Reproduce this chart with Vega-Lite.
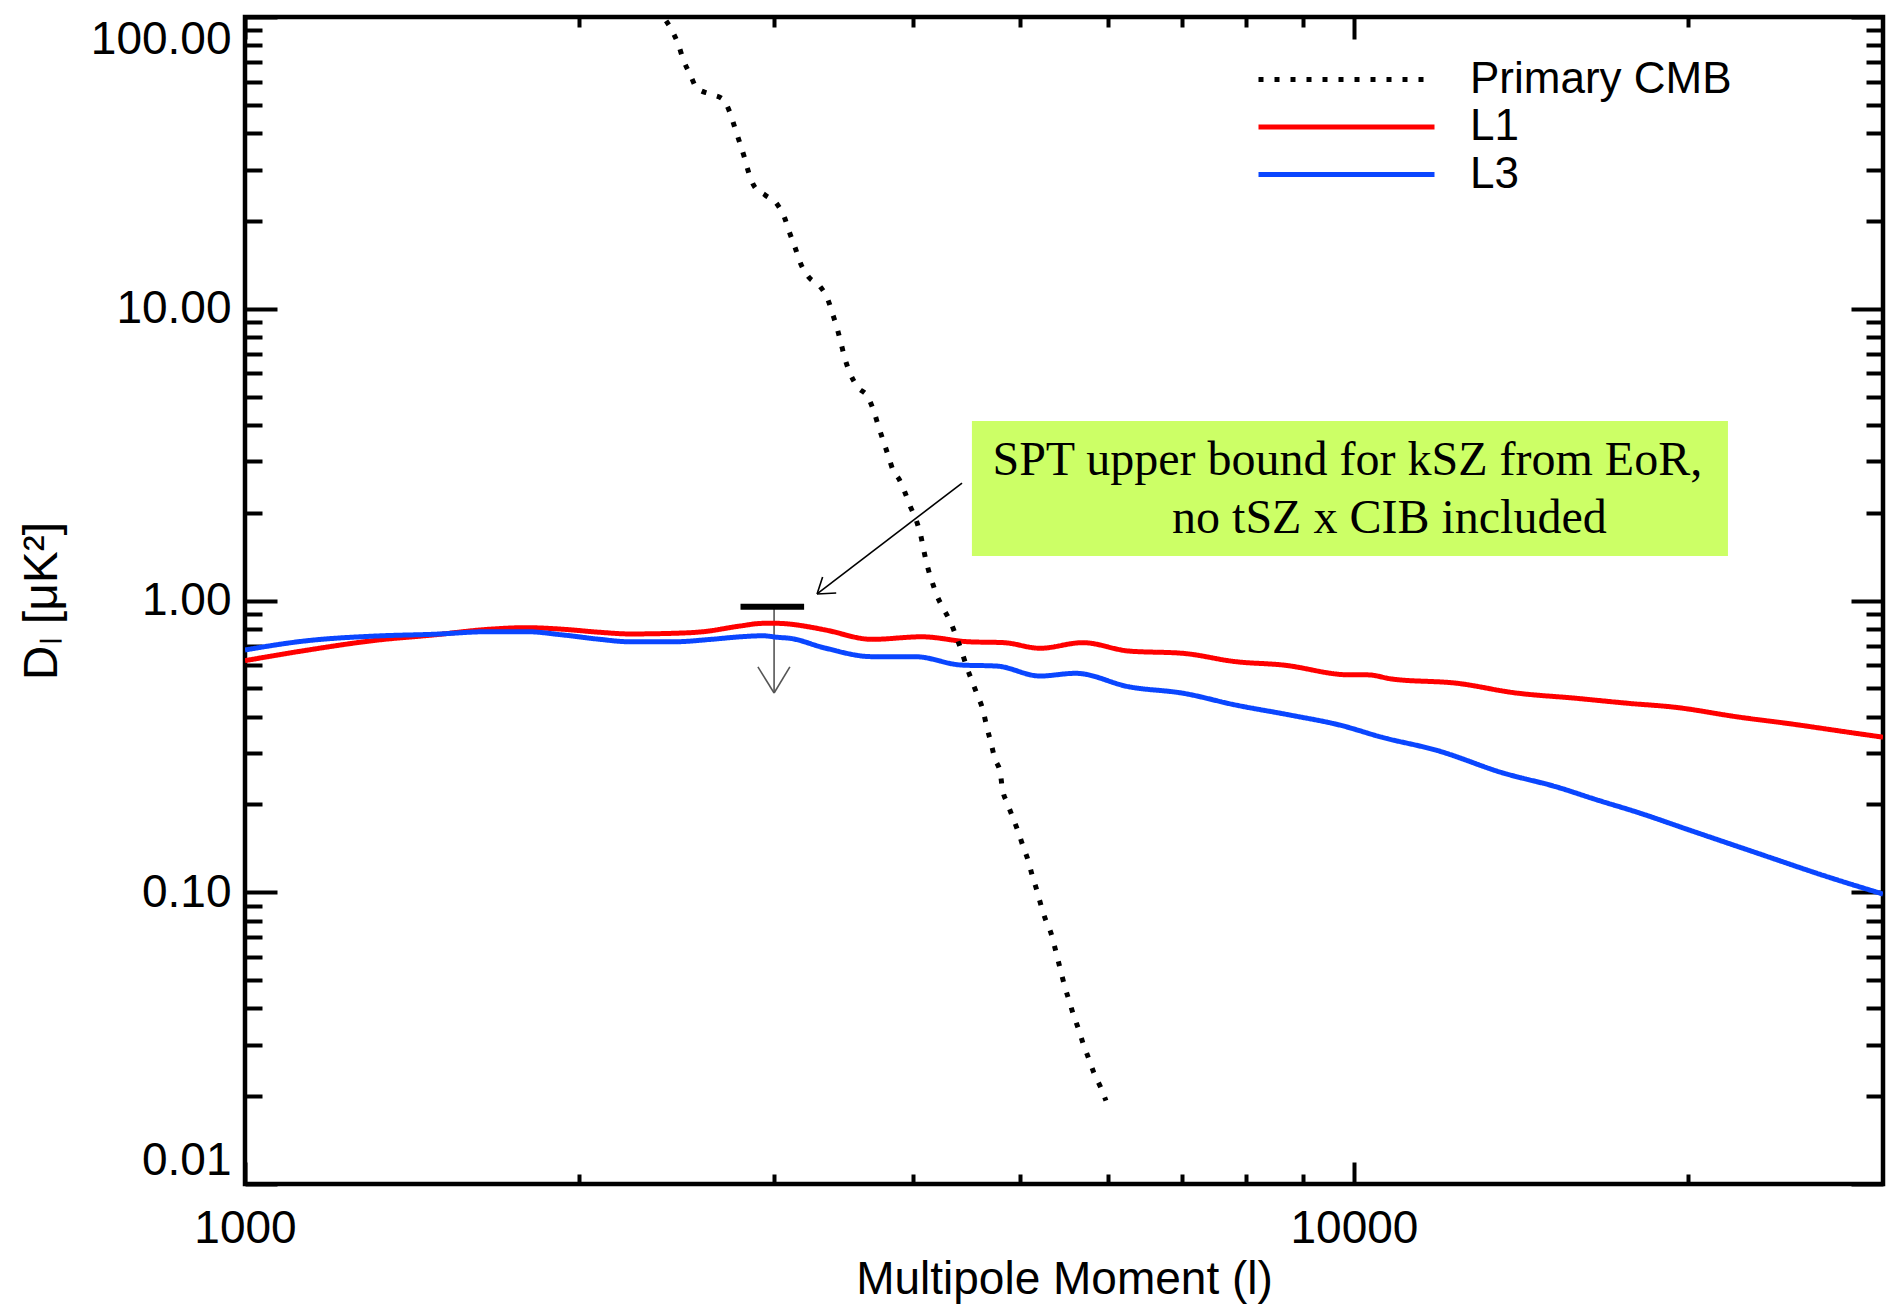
{
  "$schema": "https://vega.github.io/schema/vega-lite/v6.json",
  "width": 1638,
  "height": 1167,
  "autosize": {"type": "none"},
  "padding": {"left": 245, "top": 17, "right": 3, "bottom": 121},
  "background": "white",
  "config": {
    "view": {"stroke": "black", "strokeWidth": 4.5},
    "axis": {"grid": false, "domain": false, "tickColor": "black", "tickWidth": 4, "labelColor": "black", "titleColor": "black", "labelFont": "Liberation Sans", "titleFont": "Liberation Sans", "titleFontWeight": "normal"}
  },
  "datasets": {
    "curves": [
      {"series": "L1", "l": 1000, "D": 0.622}, {"series": "L1", "l": 1130, "D": 0.673}, {"series": "L1", "l": 1318, "D": 0.732},
      {"series": "L1", "l": 1479, "D": 0.762}, {"series": "L1", "l": 1660, "D": 0.797}, {"series": "L1", "l": 1792, "D": 0.807},
      {"series": "L1", "l": 1935, "D": 0.797}, {"series": "L1", "l": 2090, "D": 0.778}, {"series": "L1", "l": 2223, "D": 0.768},
      {"series": "L1", "l": 2437, "D": 0.772}, {"series": "L1", "l": 2591, "D": 0.782}, {"series": "L1", "l": 2798, "D": 0.818},
      {"series": "L1", "l": 2930, "D": 0.835}, {"series": "L1", "l": 3022, "D": 0.835}, {"series": "L1", "l": 3100, "D": 0.83},
      {"series": "L1", "l": 3232, "D": 0.811}, {"series": "L1", "l": 3340, "D": 0.792}, {"series": "L1", "l": 3677, "D": 0.736},
      {"series": "L1", "l": 4078, "D": 0.751}, {"series": "L1", "l": 4493, "D": 0.722}, {"series": "L1", "l": 4835, "D": 0.717},
      {"series": "L1", "l": 5211, "D": 0.686}, {"series": "L1", "l": 5695, "D": 0.717}, {"series": "L1", "l": 6268, "D": 0.671},
      {"series": "L1", "l": 7013, "D": 0.659}, {"series": "L1", "l": 7829, "D": 0.617}, {"series": "L1", "l": 8629, "D": 0.601},
      {"series": "L1", "l": 9917, "D": 0.556}, {"series": "L1", "l": 10292, "D": 0.556}, {"series": "L1", "l": 10822, "D": 0.538},
      {"series": "L1", "l": 12410, "D": 0.52}, {"series": "L1", "l": 13941, "D": 0.483}, {"series": "L1", "l": 15883, "D": 0.462},
      {"series": "L1", "l": 17701, "D": 0.444}, {"series": "L1", "l": 19434, "D": 0.431}, {"series": "L1", "l": 22287, "D": 0.398},
      {"series": "L1", "l": 24863, "D": 0.377}, {"series": "L1", "l": 27716, "D": 0.355}, {"series": "L1", "l": 30000, "D": 0.34},
      {"series": "L3", "l": 1000, "D": 0.677}, {"series": "L3", "l": 1130, "D": 0.726}, {"series": "L3", "l": 1318, "D": 0.756},
      {"series": "L3", "l": 1479, "D": 0.766}, {"series": "L3", "l": 1660, "D": 0.782}, {"series": "L3", "l": 1792, "D": 0.782},
      {"series": "L3", "l": 1935, "D": 0.762}, {"series": "L3", "l": 2090, "D": 0.736}, {"series": "L3", "l": 2223, "D": 0.722},
      {"series": "L3", "l": 2437, "D": 0.722}, {"series": "L3", "l": 2632, "D": 0.736}, {"series": "L3", "l": 2798, "D": 0.751},
      {"series": "L3", "l": 2930, "D": 0.757}, {"series": "L3", "l": 3022, "D": 0.748}, {"series": "L3", "l": 3100, "D": 0.742},
      {"series": "L3", "l": 3340, "D": 0.686}, {"series": "L3", "l": 3677, "D": 0.642}, {"series": "L3", "l": 4019, "D": 0.642},
      {"series": "L3", "l": 4422, "D": 0.601}, {"series": "L3", "l": 4765, "D": 0.596}, {"series": "L3", "l": 5211, "D": 0.551},
      {"series": "L3", "l": 5611, "D": 0.563}, {"series": "L3", "l": 6268, "D": 0.506}, {"series": "L3", "l": 7013, "D": 0.481},
      {"series": "L3", "l": 7829, "D": 0.438}, {"series": "L3", "l": 8755, "D": 0.405}, {"series": "L3", "l": 9714, "D": 0.374},
      {"series": "L3", "l": 10594, "D": 0.34}, {"series": "L3", "l": 11893, "D": 0.306}, {"series": "L3", "l": 13646, "D": 0.256},
      {"series": "L3", "l": 15209, "D": 0.23}, {"series": "L3", "l": 16585, "D": 0.207}, {"series": "L3", "l": 18089, "D": 0.187},
      {"series": "L3", "l": 20008, "D": 0.164}, {"series": "L3", "l": 23132, "D": 0.136}, {"series": "L3", "l": 26730, "D": 0.113},
      {"series": "L3", "l": 30000, "D": 0.0986},
      {"series": "Primary CMB", "l": 2357, "D": 108.2}, {"series": "Primary CMB", "l": 2386, "D": 100}, {"series": "Primary CMB", "l": 2430, "D": 89.0},
      {"series": "Primary CMB", "l": 2460, "D": 80.2}, {"series": "Primary CMB", "l": 2485, "D": 71.2}, {"series": "Primary CMB", "l": 2519, "D": 63.8},
      {"series": "Primary CMB", "l": 2555, "D": 57.1}, {"series": "Primary CMB", "l": 2625, "D": 54.5}, {"series": "Primary CMB", "l": 2696, "D": 52.4},
      {"series": "Primary CMB", "l": 2738, "D": 46.9}, {"series": "Primary CMB", "l": 2766, "D": 41.6}, {"series": "Primary CMB", "l": 2794, "D": 37.0},
      {"series": "Primary CMB", "l": 2820, "D": 33.1}, {"series": "Primary CMB", "l": 2845, "D": 29.4}, {"series": "Primary CMB", "l": 2879, "D": 26.3},
      {"series": "Primary CMB", "l": 2946, "D": 24.5}, {"series": "Primary CMB", "l": 3017, "D": 22.9}, {"series": "Primary CMB", "l": 3066, "D": 20.5},
      {"series": "Primary CMB", "l": 3097, "D": 18.3}, {"series": "Primary CMB", "l": 3134, "D": 16.2}, {"series": "Primary CMB", "l": 3172, "D": 14.2},
      {"series": "Primary CMB", "l": 3223, "D": 12.85}, {"series": "Primary CMB", "l": 3302, "D": 11.9}, {"series": "Primary CMB", "l": 3353, "D": 10.8},
      {"series": "Primary CMB", "l": 3388, "D": 9.59}, {"series": "Primary CMB", "l": 3421, "D": 8.52}, {"series": "Primary CMB", "l": 3447, "D": 7.63},
      {"series": "Primary CMB", "l": 3476, "D": 6.73}, {"series": "Primary CMB", "l": 3512, "D": 6.02}, {"series": "Primary CMB", "l": 3568, "D": 5.39},
      {"series": "Primary CMB", "l": 3646, "D": 4.98}, {"series": "Primary CMB", "l": 3692, "D": 4.43}, {"series": "Primary CMB", "l": 3728, "D": 3.93},
      {"series": "Primary CMB", "l": 3767, "D": 3.49}, {"series": "Primary CMB", "l": 3803, "D": 3.13}, {"series": "Primary CMB", "l": 3840, "D": 2.8},
      {"series": "Primary CMB", "l": 3888, "D": 2.61}, {"series": "Primary CMB", "l": 3936, "D": 2.35}, {"series": "Primary CMB", "l": 3983, "D": 2.09},
      {"series": "Primary CMB", "l": 4029, "D": 1.89}, {"series": "Primary CMB", "l": 4071, "D": 1.65}, {"series": "Primary CMB", "l": 4096, "D": 1.47},
      {"series": "Primary CMB", "l": 4127, "D": 1.3}, {"series": "Primary CMB", "l": 4165, "D": 1.16}, {"series": "Primary CMB", "l": 4207, "D": 1.04},
      {"series": "Primary CMB", "l": 4260, "D": 0.943}, {"series": "Primary CMB", "l": 4328, "D": 0.844}, {"series": "Primary CMB", "l": 4380, "D": 0.75},
      {"series": "Primary CMB", "l": 4431, "D": 0.666}, {"series": "Primary CMB", "l": 4475, "D": 0.592}, {"series": "Primary CMB", "l": 4521, "D": 0.534},
      {"series": "Primary CMB", "l": 4576, "D": 0.474}, {"series": "Primary CMB", "l": 4629, "D": 0.421}, {"series": "Primary CMB", "l": 4668, "D": 0.366},
      {"series": "Primary CMB", "l": 4707, "D": 0.325}, {"series": "Primary CMB", "l": 4742, "D": 0.289}, {"series": "Primary CMB", "l": 4799, "D": 0.256},
      {"series": "Primary CMB", "l": 4818, "D": 0.228}, {"series": "Primary CMB", "l": 4869, "D": 0.202}, {"series": "Primary CMB", "l": 4923, "D": 0.181},
      {"series": "Primary CMB", "l": 4981, "D": 0.161}, {"series": "Primary CMB", "l": 5033, "D": 0.143}, {"series": "Primary CMB", "l": 5086, "D": 0.128},
      {"series": "Primary CMB", "l": 5128, "D": 0.114}, {"series": "Primary CMB", "l": 5179, "D": 0.101}, {"series": "Primary CMB", "l": 5218, "D": 0.0911},
      {"series": "Primary CMB", "l": 5265, "D": 0.0816}, {"series": "Primary CMB", "l": 5331, "D": 0.0725}, {"series": "Primary CMB", "l": 5376, "D": 0.0644},
      {"series": "Primary CMB", "l": 5443, "D": 0.0533}, {"series": "Primary CMB", "l": 5488, "D": 0.0473}, {"series": "Primary CMB", "l": 5534, "D": 0.0427},
      {"series": "Primary CMB", "l": 5586, "D": 0.038}, {"series": "Primary CMB", "l": 5649, "D": 0.0337}, {"series": "Primary CMB", "l": 5704, "D": 0.03},
      {"series": "Primary CMB", "l": 5768, "D": 0.0268}, {"series": "Primary CMB", "l": 5829, "D": 0.024}, {"series": "Primary CMB", "l": 5909, "D": 0.0215},
      {"series": "Primary CMB", "l": 5976, "D": 0.0193}
    ],
    "box": [{"x1": 4524, "x2": 21742, "y1": 4.124, "y2": 1.42}],
    "texts": [
      {"l": 4721, "D": 2.692, "label": "SPT upper bound for kSZ from EoR,"},
      {"l": 6855, "D": 1.703, "label": "no tSZ x CIB included"}
    ],
    "segs": [
      {"part": "arrow", "x1": 4432, "y1": 2.527, "x2": 3280, "y2": 1.053},
      {"part": "arrow", "x1": 3318, "y1": 1.204, "x2": 3280, "y2": 1.053},
      {"part": "arrow", "x1": 3413, "y1": 1.061, "x2": 3280, "y2": 1.053},
      {"part": "bound", "x1": 3000, "y1": 0.952, "x2": 3000, "y2": 0.482},
      {"part": "bound", "x1": 2901, "y1": 0.592, "x2": 3000, "y2": 0.482},
      {"part": "bound", "x1": 3100, "y1": 0.592, "x2": 3000, "y2": 0.482},
      {"part": "bar", "x1": 2798, "y1": 0.952, "x2": 3193, "y2": 0.952}
    ]
  },
  "resolve": {"axis": {"x": "independent", "y": "independent"}},
  "layer": [
    {
      "data": {"name": "box"},
      "mark": {"type": "rect", "color": "#CCFF66"},
      "encoding": {
        "x": {"field": "x1", "type": "quantitative",
          "scale": {"type": "log", "domain": [1000, 30000], "nice": false},
          "axis": {"orient": "top", "title": null, "labels": false,
            "values": [1000, 2000, 3000, 4000, 5000, 6000, 7000, 8000, 9000, 10000, 20000],
            "tickSize": {"condition": {"test": "datum.value == 1000 || datum.value == 10000", "value": -22}, "value": -10}}},
        "x2": {"field": "x2"},
        "y": {"field": "y1", "type": "quantitative",
          "scale": {"type": "log", "domain": [0.01, 100], "nice": false},
          "axis": {"orient": "right", "title": null, "labels": false,
            "values": [0.01, 0.02, 0.03, 0.04, 0.05, 0.06, 0.07, 0.08, 0.09, 0.1, 0.2, 0.3, 0.4, 0.5, 0.6, 0.7, 0.8, 0.9, 1, 2, 3, 4, 5, 6, 7, 8, 9, 10, 20, 30, 40, 50, 60, 70, 80, 90, 100],
            "tickSize": {"condition": {"test": "datum.value == 0.01 || datum.value == 0.1 || datum.value == 1 || datum.value == 10 || datum.value == 100", "value": -32}, "value": -17}}},
        "y2": {"field": "y2"}
      }
    },
    {
      "data": {"name": "texts"},
      "mark": {"type": "text", "font": "Liberation Serif", "fontSize": 48, "align": "left", "baseline": "alphabetic", "color": "black"},
      "encoding": {
        "x": {"field": "l", "type": "quantitative", "scale": {"type": "log", "domain": [1000, 30000], "nice": false}, "axis": null},
        "y": {"field": "D", "type": "quantitative", "scale": {"type": "log", "domain": [0.01, 100], "nice": false}, "axis": null},
        "text": {"field": "label", "type": "nominal"}
      }
    },
    {
      "data": {"name": "segs"},
      "transform": [{"filter": "datum.part == 'arrow'"}],
      "mark": {"type": "rule", "color": "black", "strokeWidth": 1.6},
      "encoding": {
        "x": {"field": "x1", "type": "quantitative", "scale": {"type": "log", "domain": [1000, 30000], "nice": false}, "axis": null},
        "x2": {"field": "x2"},
        "y": {"field": "y1", "type": "quantitative", "scale": {"type": "log", "domain": [0.01, 100], "nice": false}, "axis": null},
        "y2": {"field": "y2"}
      }
    },
    {
      "data": {"name": "segs"},
      "transform": [{"filter": "datum.part == 'bound'"}],
      "mark": {"type": "rule", "color": "#555555", "strokeWidth": 1.6},
      "encoding": {
        "x": {"field": "x1", "type": "quantitative", "scale": {"type": "log", "domain": [1000, 30000], "nice": false}, "axis": null},
        "x2": {"field": "x2"},
        "y": {"field": "y1", "type": "quantitative", "scale": {"type": "log", "domain": [0.01, 100], "nice": false}, "axis": null},
        "y2": {"field": "y2"}
      }
    },
    {
      "data": {"name": "segs"},
      "transform": [{"filter": "datum.part == 'bar'"}],
      "mark": {"type": "rule", "color": "black", "strokeWidth": 6},
      "encoding": {
        "x": {"field": "x1", "type": "quantitative", "scale": {"type": "log", "domain": [1000, 30000], "nice": false}, "axis": null},
        "x2": {"field": "x2"},
        "y": {"field": "y1", "type": "quantitative", "scale": {"type": "log", "domain": [0.01, 100], "nice": false}, "axis": null},
        "y2": {"field": "y2"}
      }
    },
    {
      "data": {"name": "curves"},
      "mark": {"type": "line", "strokeWidth": 5, "clip": true, "strokeCap": "butt", "interpolate": "monotone"},
      "encoding": {
        "x": {"field": "l", "type": "quantitative",
          "scale": {"type": "log", "domain": [1000, 30000], "nice": false},
          "axis": {"orient": "bottom", "title": "Multipole Moment (l)", "titleFontSize": 46, "titlePadding": -6,
            "values": [1000, 2000, 3000, 4000, 5000, 6000, 7000, 8000, 9000, 10000, 20000],
            "tickSize": {"condition": {"test": "datum.value == 1000 || datum.value == 10000", "value": -22}, "value": -10},
            "labelExpr": "datum.value == 1000 || datum.value == 10000 ? format(datum.value, 'd') : ''",
            "labelFontSize": 46, "labelPadding": 44, "labelFlush": false, "labelOverlap": false}},
        "y": {"field": "D", "type": "quantitative",
          "scale": {"type": "log", "domain": [0.01, 100], "nice": false},
          "axis": {"orient": "left", "title": "Dₗ [μK²]", "titleFontSize": 48, "titlePadding": 24,
            "values": [0.01, 0.02, 0.03, 0.04, 0.05, 0.06, 0.07, 0.08, 0.09, 0.1, 0.2, 0.3, 0.4, 0.5, 0.6, 0.7, 0.8, 0.9, 1, 2, 3, 4, 5, 6, 7, 8, 9, 10, 20, 30, 40, 50, 60, 70, 80, 90, 100],
            "tickSize": {"condition": {"test": "datum.value == 0.01 || datum.value == 0.1 || datum.value == 1 || datum.value == 10 || datum.value == 100", "value": -32}, "value": -17},
            "labelExpr": "datum.value == 0.01 || datum.value == 0.1 || datum.value == 1 || datum.value == 10 || datum.value == 100 ? format(datum.value, '.2f') : ''",
            "labelFontSize": 46, "labelPadding": 46, "labelFlush": true, "labelOverlap": false}},
        "color": {"field": "series", "type": "nominal",
          "scale": {"domain": ["Primary CMB", "L1", "L3"], "range": ["black", "#FF0000", "#0A46FF"]},
          "legend": {"orient": "none", "legendX": 991, "legendY": 40, "title": null, "padding": 0,
            "symbolType": "M0,0H8.8", "symbolSize": 1600, "symbolStrokeWidth": 5,
            "labelFont": "Liberation Sans", "labelFontSize": 44, "labelColor": "black", "labelLimit": 0,
            "labelOffset": 189, "rowPadding": 2.5, "symbolOffset": 0}},
        "strokeDash": {"field": "series", "type": "nominal",
          "scale": {"domain": ["Primary CMB", "L1", "L3"], "range": [[5, 11], [1, 0], [1, 0]]},
          "legend": {"orient": "none", "legendX": 991, "legendY": 40, "title": null, "padding": 0,
            "symbolType": "M0,0H8.8", "symbolSize": 1600, "symbolStrokeWidth": 5,
            "labelFont": "Liberation Sans", "labelFontSize": 44, "labelColor": "black", "labelLimit": 0,
            "labelOffset": 189, "rowPadding": 2.5, "symbolOffset": 0}}
      }
    }
  ]
}
